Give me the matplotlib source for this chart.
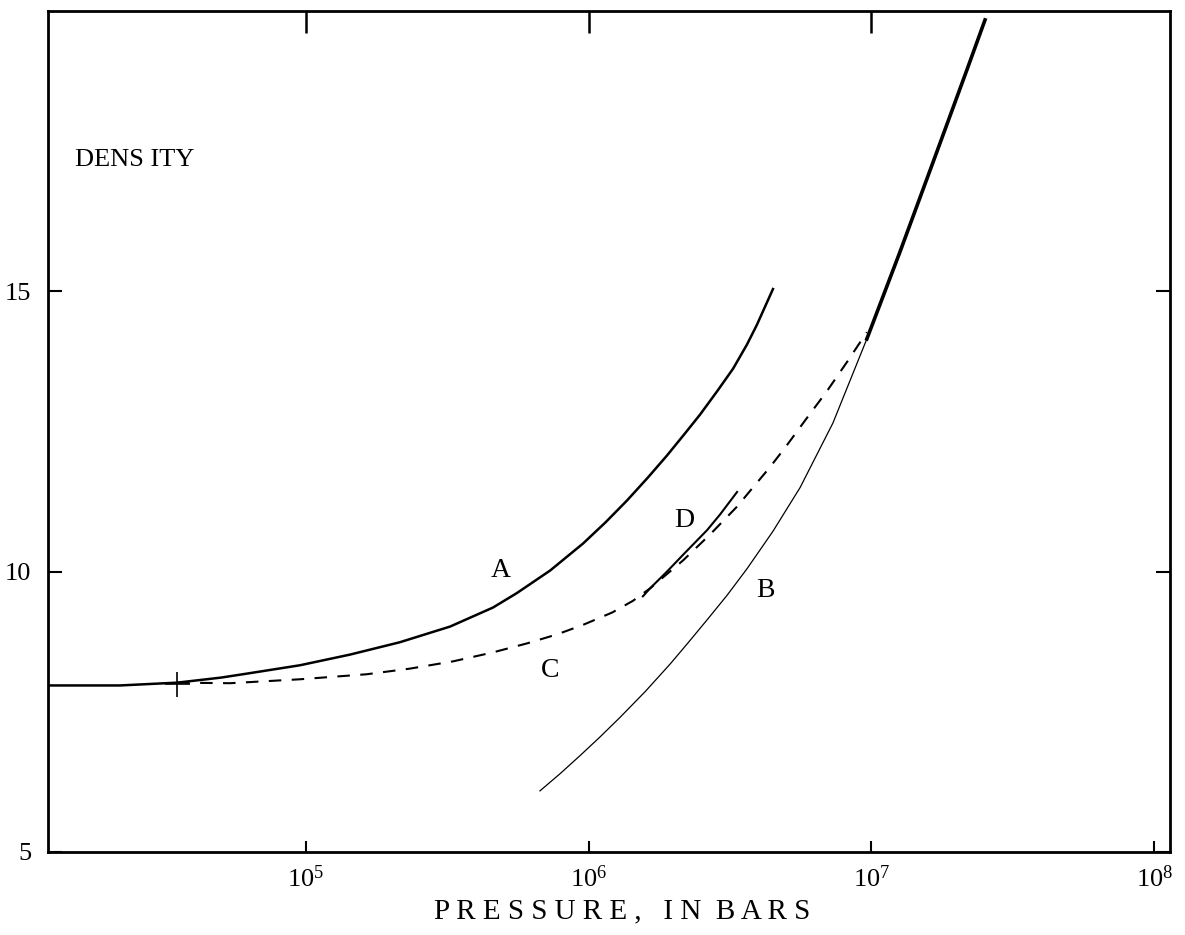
import numpy as np
import matplotlib
matplotlib.use("Agg")
import matplotlib.pyplot as plt

plt.rcParams['font.family'] = ['Liberation Serif', 'DejaVu Serif']
plt.rcParams['mathtext.default'] = 'regular'

# log10(pressure in bars) and density values
A_logp = [4.088, 4.343, 4.545, 4.700, 4.803, 4.979, 5.156, 5.332, 5.510, 5.662, 5.747,
          5.864, 5.980, 6.060, 6.136, 6.210, 6.277, 6.340, 6.394, 6.455, 6.511, 6.560, 6.595, 6.652]
A_dens = [7.97, 7.97, 8.02, 8.11, 8.19, 8.33, 8.52, 8.74, 9.02, 9.36, 9.62,
          10.02, 10.50, 10.88, 11.27, 11.68, 12.07, 12.46, 12.80, 13.22, 13.62, 14.05, 14.40, 15.04]

B_logp = [5.828, 5.900, 5.970, 6.040, 6.111, 6.200, 6.288, 6.350, 6.419, 6.490, 6.560,
          6.652, 6.748, 6.864, 6.984, 7.101, 7.218, 7.338, 7.402]
B_dens = [6.09, 6.40, 6.72, 7.05, 7.40, 7.86, 8.35, 8.72, 9.14, 9.58, 10.05,
          10.72, 11.50, 12.65, 14.15, 15.70, 17.30, 18.95, 19.84]

C_logp = [4.545, 4.732, 4.979, 5.216, 5.368, 5.521, 5.662, 5.782, 5.888, 5.980,
          6.083, 6.157, 6.217, 6.334, 6.429, 6.525, 6.581, 6.641, 6.702, 6.772,
          6.843, 6.914, 6.984]
C_dens = [8.02, 8.01, 8.08, 8.17, 8.27, 8.40, 8.56, 8.72, 8.88, 9.05,
          9.27, 9.48, 9.70, 10.20, 10.66, 11.16, 11.50, 11.86, 12.26, 12.74,
          13.22, 13.74, 14.27]

D_logp = [6.192, 6.217, 6.277, 6.334, 6.419, 6.465, 6.525]
D_dens = [9.56, 9.70, 10.00, 10.30, 10.74, 11.02, 11.42]

cross_logp = 4.545
cross_dens = 8.0

curve_labels = ['A', 'B', 'C', 'D']
label_logp = [5.69, 6.627, 5.864, 6.338]
label_dens = [10.02, 9.66, 8.23, 10.92]

x_ticks = [1e5, 1e6, 1e7, 1e8]
x_ticklabels = [r'$10^{5}$', r'$10^{6}$', r'$10^{7}$', r'$10^{8}$']
y_ticks = [5, 10, 15]
y_ticklabels = ['5', '10', '15']

fig = plt.figure(figsize=(11.85, 9.35), dpi=100)
ax = fig.add_axes([0.0405, 0.0888, 0.9468, 0.8995])
ax.set_xscale('log')
ax.set_xlim(10**4.088, 10**8.056)
ax.set_ylim(5, 20)

p = lambda v: 10**np.asarray(v)

ax.plot(p(A_logp), A_dens, color='black', lw=1.8)
B_logp_a = np.asarray(B_logp); B_dens_a = np.asarray(B_dens)
lo = B_logp_a <= 6.984
ax.plot(p(B_logp_a[lo]), B_dens_a[lo], color='black', lw=0.9)
hi = B_logp_a >= 6.984
ax.plot(p(B_logp_a[hi]), B_dens_a[hi], color='black', lw=2.6)
ax.plot(p(C_logp), C_dens, color='black', lw=1.5, dashes=(6, 5))
ax.plot(p(D_logp), D_dens, color='black', lw=1.5)
ax.plot([10**cross_logp], [cross_dens], marker='+', color='black',
        markersize=18, markeredgewidth=1.2)

for lab, lx, ly in zip(curve_labels, label_logp, label_dens):
    ax.text(10**lx, ly, lab, fontsize=20, ha='center', va='center')

ax.text(10**4.184, 17.35, 'DENS ITY', fontsize=19, ha='left', va='center')

ax.set_xticks(x_ticks)
ax.set_xticklabels(x_ticklabels, fontsize=19)
ax.xaxis.set_minor_locator(matplotlib.ticker.NullLocator())
ax.set_yticks(y_ticks)
ax.set_yticklabels(y_ticklabels, fontsize=19)
ax.tick_params(axis='x', direction='in', length=8, width=1.5, pad=10, top=False)
ax.tick_params(axis='y', direction='in', length=10, width=1.5, pad=12, right=True)

sec = ax.secondary_xaxis('top')
sec.set_xticks([1e5, 1e6, 1e7])
sec.set_xticklabels([])
sec.tick_params(direction='in', length=16, width=1.8)
sec.xaxis.set_minor_locator(matplotlib.ticker.NullLocator())
sec.spines['top'].set_visible(False)

for s in ax.spines.values():
    s.set_linewidth(2.0)

ax.set_xlabel('P R E S S U R E ,   I N  B A R S', fontsize=21, labelpad=4)
ax.xaxis.set_label_coords(0.512, -0.055)

fig.savefig('out.png', dpi=100)
